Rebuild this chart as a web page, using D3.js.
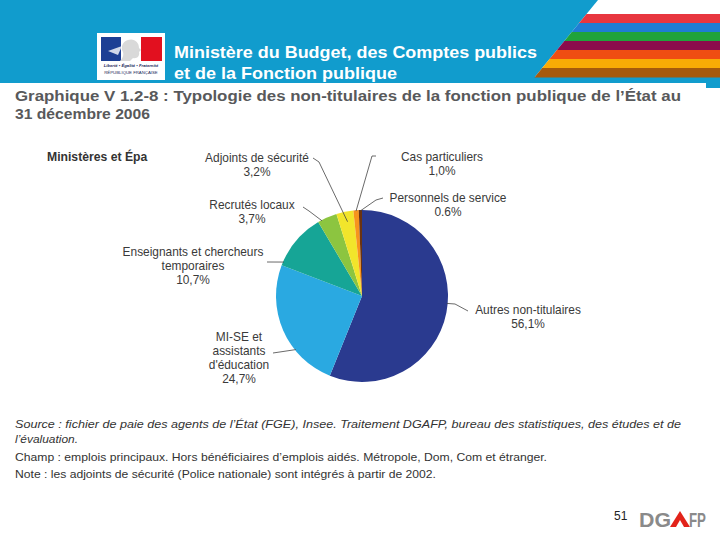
<!DOCTYPE html>
<html><head><meta charset="utf-8">
<script src="https://cdn.jsdelivr.net/npm/d3@7"></script>
<style>
html,body{margin:0;padding:0;background:#fff;}
svg{display:block;font-family:"Liberation Sans",Arial,sans-serif;}
</style></head>
<body>
<svg id="c" width="720" height="540"></svg>
<script>
// ---- data ----
const categories = ["Autres non-titulaires","MI-SE et assistants d'éducation","Enseignants et chercheurs temporaires","Recrutés locaux","Adjoints de sécurité","Cas particuliers","Personnels de service"];
const values = [56.1, 24.7, 10.7, 3.7, 3.2, 1.0, 0.6];
const valueLabels = ["56,1%","24,7%","10,7%","3,7%","3,2%","1,0%","0.6%"];
const labelLines = [
  ["Autres non-titulaires"],
  ["MI-SE et","assistants","d'éducation"],
  ["Enseignants et chercheurs","temporaires"],
  ["Recrutés locaux"],
  ["Adjoints de sécurité"],
  ["Cas particuliers"],
  ["Personnels de service"]
];
const sliceColors = ["#2a3a8f","#2aa9e1","#16a596","#8cc540","#f2e52b","#f7941d","#6b3310"];
const headerLines = ["Ministère du Budget, des Comptes publics","et de la Fonction publique"];
const titleLines = ["Graphique V 1.2-8 : Typologie des non-titulaires de la fonction publique de l’État au","31 décembre 2006"];
const subtitle = "Ministères et Épa";
const notes = [
  {t:"Source : fichier de paie des agents de l’État (FGE), Insee. Traitement DGAFP, bureau des statistiques, des études et de", it:true},
  {t:"l’évaluation.", it:true},
  {t:"Champ : emplois principaux. Hors bénéficiaires d’emplois aidés. Métropole, Dom, Com et étranger.", it:false},
  {t:"Note : les adjoints de sécurité (Police nationale) sont intégrés à partir de 2002.", it:false}
];
const pageNumber = "51";

// ---- layout (positions) ----
const labelLayout = [
  {x:528, y:314, lead:{a:95, pts:[[455,304],[468,311]]}},
  {x:239, y:341, lead:{a:231, pts:[[273,353]]}},
  {x:193, y:256, lead:{a:293.5, pts:[[267,262]]}},
  {x:252, y:209, lead:{a:332, pts:[[309,211],[303,207]]}},
  {x:257, y:162, lead:{a:349, r:0.88, pts:[[319,162],[313,158]]}},
  {x:442, y:161, lead:{a:356, pts:[[372,156],[376,156]]}},
  {x:448, y:202, lead:{a:358.9, pts:[[376,200],[383,198]]}}
];
const notesY = [428, 443, 461, 478];
const notesW = [666, 63, 532, 421];

const svg = d3.select("#c");

// ---- header ----
const blue = "#119ccd";
svg.append("path").attr("d","M0,0 L598,0 L534,78 L0,78 Z").attr("fill",blue);
svg.append("rect").attr("x",0).attr("y",77).attr("width",720).attr("height",6).attr("fill",blue);
svg.append("rect").attr("x",706).attr("y",77).attr("width",14).attr("height",11).attr("fill",blue);
const stripeColors = ["#e8363f","#1f7dd4","#20a33b","#8c0c4c","#ef4e12","#f9ab05","#a65a0c"];
const stripeScale = d3.scaleBand().domain(d3.range(stripeColors.length)).range([14,77]);
stripeColors.forEach((c,i)=>{
  const y0 = stripeScale(i), y1 = y0 + stripeScale.bandwidth()+0.5;
  const xl = y => 598 - (y/78)*64;
  svg.append("path").attr("d",`M${xl(y0)},${y0} L720,${y0} L720,${y1} L${xl(y1)},${y1} Z`).attr("fill",c);
});
// Marianne logo
const lg = svg.append("g");
lg.append("rect").attr("x",97).attr("y",33).attr("width",68).attr("height",47).attr("fill","#fff");
lg.append("rect").attr("x",101).attr("y",37).attr("width",20).attr("height",24).attr("fill","#1d3f94");
lg.append("rect").attr("x",141).attr("y",37).attr("width",21).attr("height",24).attr("fill","#e2101f");
lg.append("path").attr("d","M128,40 C134,38 139,42 139,48 L141,50 L139,52 C140,56 137,59 133,58 L130,61 L120,61 C124,57 124,53 122,50 C121,45 124,41 128,40 Z").attr("fill","#d9d9d9");
lg.append("path").attr("d","M108,51 L122,46 L118,55 Z").attr("fill","#fff").attr("opacity",0.8);
lg.append("text").attr("x",131).attr("y",67).attr("text-anchor","middle").attr("font-size",4.2).attr("font-style","italic").attr("font-weight","bold").attr("fill","#1d2a5a").text("Liberté • Égalité • Fraternité");
lg.append("text").attr("x",131).attr("y",74).attr("text-anchor","middle").attr("font-size",4.3).attr("fill","#1d2a5a").text("RÉPUBLIQUE FRANÇAISE");

const hw = [363, 223];
headerLines.forEach((t,i)=>{
  svg.append("text").attr("x",174).attr("y",58+i*21).attr("fill","#fff")
    .attr("font-family","'Liberation Sans Narrow','Arial Narrow','Liberation Sans',Arial,sans-serif")
    .attr("font-size",16.5).attr("font-weight","bold")
    .attr("textLength",hw[i]).attr("lengthAdjust","spacingAndGlyphs").text(t);
});

// ---- title ----
const tw = [666, 135];
titleLines.forEach((t,i)=>{
  svg.append("text").attr("x",15).attr("y",101+i*18).attr("fill","#58595b")
    .attr("font-size",14.5).attr("font-weight","bold")
    .attr("textLength",tw[i]).attr("lengthAdjust","spacingAndGlyphs").text(t);
});

svg.append("text").attr("x",47).attr("y",161).attr("fill","#333")
  .attr("font-size",12.2).attr("font-weight","bold").text(subtitle);

// ---- pie ----
const cx = 362, cy = 296, R = 86;
const pie = d3.pie().sort(null).value(d=>d);
const arcs = pie(values);
const arc = d3.arc().innerRadius(0).outerRadius(R);
const pg = svg.append("g").attr("transform",`translate(${cx},${cy})`);
pg.selectAll("path").data(arcs).join("path")
  .attr("d",arc).attr("fill",(d,i)=>sliceColors[i]);

// leader lines
const lineGen = d3.line();
labelLayout.forEach((L,i)=>{
  const a = L.lead.a*Math.PI/180, rr = (L.lead.r||0.99)*R;
  const p0 = [cx + rr*Math.sin(a), cy - rr*Math.cos(a)];
  svg.append("path").attr("d",lineGen([p0, ...L.lead.pts]))
    .attr("fill","none").attr("stroke","#444").attr("stroke-width",0.8);
});

// labels
labelLayout.forEach((L,i)=>{
  const lines = labelLines[i].concat([valueLabels[i]]);
  const t = svg.append("text").attr("text-anchor","middle").attr("font-size",11.9).attr("fill","#3a3a3a");
  lines.forEach((s,j)=>{
    t.append("tspan").attr("x",L.x).attr("y",L.y + j*14).text(s);
  });
});

// ---- notes ----
notes.forEach((n,i)=>{
  svg.append("text").attr("x",15).attr("y",notesY[i]).attr("fill","#333")
    .attr("font-size",11.5).attr("font-style",n.it?"italic":"normal")
    .attr("textLength",notesW[i]).attr("lengthAdjust","spacingAndGlyphs").text(n.t);
});

// ---- footer ----
svg.append("text").attr("x",614).attr("y",520).attr("font-size",12).attr("fill","#222").text(pageNumber);
const dg = svg.append("g");
dg.append("text").attr("x",639).attr("y",527).attr("font-size",20).attr("font-weight","bold").attr("fill","#8a8a8a")
  .attr("textLength",32).attr("lengthAdjust","spacingAndGlyphs").text("DG");
dg.append("path").attr("d","M680,511 L690,527 L670,527 Z").attr("fill","#e2231a");
dg.append("path").attr("d","M680,520 L684,527 L676,527 Z").attr("fill","#fff");
dg.append("text").attr("x",689).attr("y",527).attr("font-size",20).attr("font-weight","bold").attr("fill","#8a8a8a")
  .attr("textLength",17).attr("lengthAdjust","spacingAndGlyphs").text("FP");
</script>
</body></html>
